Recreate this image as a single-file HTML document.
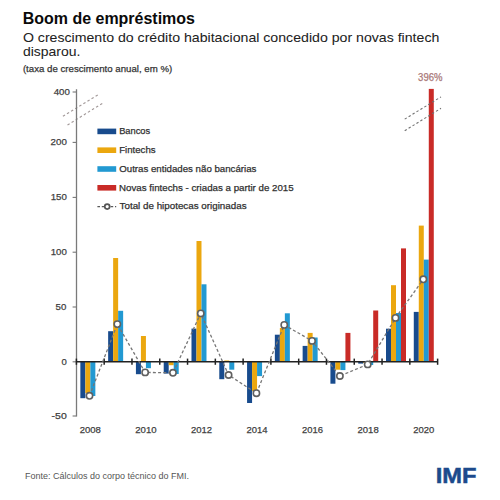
<!DOCTYPE html>
<html><head><meta charset="utf-8">
<style>
html,body{margin:0;padding:0;background:#fff;width:500px;height:500px;overflow:hidden}
svg{display:block}
text{font-family:"Liberation Sans",sans-serif}
.ax{font-size:10px;fill:#404040}
.lg{font-size:10px;fill:#303030}
</style></head><body>
<svg width="500" height="500" viewBox="0 0 500 500">
<rect width="500" height="500" fill="#fff"/>
<text x="22.69" y="24.00" font-size="15.6" fill="#0a0a0a" font-weight="bold" textLength="172.29" lengthAdjust="spacingAndGlyphs">Boom de empréstimos</text>
<text x="22.92" y="41.60" font-size="13.3" fill="#222" textLength="416.41" lengthAdjust="spacingAndGlyphs" stroke="#222" stroke-width="0.05">O crescimento do crédito habitacional concedido por novas fintech</text>
<text x="23.00" y="56.40" font-size="13.3" fill="#222" textLength="57.42" lengthAdjust="spacingAndGlyphs" stroke="#222" stroke-width="0.05">disparou.</text>
<text x="22.92" y="72.30" font-size="9.9" fill="#333" textLength="149.29" lengthAdjust="spacingAndGlyphs" stroke="#333" stroke-width="0.25">(taxa de crescimento anual, em %)</text>
<g stroke="#a39a9a" stroke-width="1.15" stroke-dasharray="2.5,2.3" fill="none">
<line x1="62.9" y1="116.3" x2="98.9" y2="94.2"/>
<line x1="67.5" y1="125.0" x2="103.2" y2="102.9"/>
</g>
<line x1="76.5" y1="89.2" x2="76.5" y2="416.6" stroke="#7a7a7a" stroke-width="1.3"/>
<line x1="72.6" y1="92.0" x2="76.5" y2="92.0" stroke="#777" stroke-width="1.1"/><text x="53.64" y="94.70" font-size="9.8" fill="#404040" textLength="16.17" lengthAdjust="spacingAndGlyphs" stroke="#404040" stroke-width="0.25">400</text><line x1="72.6" y1="142.4" x2="76.5" y2="142.4" stroke="#777" stroke-width="1.1"/><text x="50.54" y="145.40" font-size="9.8" fill="#404040" textLength="16.31" lengthAdjust="spacingAndGlyphs" stroke="#404040" stroke-width="0.25">200</text><line x1="72.6" y1="197.4" x2="76.5" y2="197.4" stroke="#777" stroke-width="1.1"/><text x="50.66" y="200.40" font-size="9.8" fill="#404040" textLength="16.18" lengthAdjust="spacingAndGlyphs" stroke="#404040" stroke-width="0.25">150</text><line x1="72.6" y1="252.2" x2="76.5" y2="252.2" stroke="#777" stroke-width="1.1"/><text x="50.66" y="255.20" font-size="9.8" fill="#404040" textLength="16.18" lengthAdjust="spacingAndGlyphs" stroke="#404040" stroke-width="0.25">100</text><line x1="72.6" y1="307.0" x2="76.5" y2="307.0" stroke="#777" stroke-width="1.1"/><text x="55.60" y="310.00" font-size="9.8" fill="#404040" textLength="10.72" lengthAdjust="spacingAndGlyphs" stroke="#404040" stroke-width="0.25">50</text><line x1="72.6" y1="361.8" x2="76.5" y2="361.8" stroke="#777" stroke-width="1.1"/><text x="61.38" y="364.80" font-size="9.8" fill="#404040" textLength="5.30" lengthAdjust="spacingAndGlyphs" stroke="#404040" stroke-width="0.25">0</text><line x1="72.6" y1="416.0" x2="76.5" y2="416.0" stroke="#777" stroke-width="1.1"/><text x="51.62" y="419.00" font-size="9.8" fill="#404040" textLength="15.12" lengthAdjust="spacingAndGlyphs" stroke="#404040" stroke-width="0.25">-50</text>
<rect x="97.4" y="128.6" width="18.8" height="5.6" fill="#184b8d"/><text x="119.17" y="134.20" font-size="9.6" fill="#303030" textLength="31.04" lengthAdjust="spacingAndGlyphs" stroke="#303030" stroke-width="0.25">Bancos</text><rect x="97.4" y="147.4" width="18.8" height="5.6" fill="#eba70f"/><text x="119.26" y="153.00" font-size="9.6" fill="#303030" textLength="36.34" lengthAdjust="spacingAndGlyphs" stroke="#303030" stroke-width="0.25">Fintechs</text><rect x="97.4" y="166.2" width="18.8" height="5.6" fill="#2299d2"/><text x="119.25" y="171.80" font-size="9.6" fill="#303030" textLength="137.16" lengthAdjust="spacingAndGlyphs" stroke="#303030" stroke-width="0.25">Outras entidades não bancárias</text><rect x="97.4" y="185.0" width="18.8" height="5.6" fill="#c92b27"/><text x="119.03" y="190.60" font-size="9.6" fill="#303030" textLength="174.68" lengthAdjust="spacingAndGlyphs" stroke="#303030" stroke-width="0.25">Novas fintechs - criadas a partir de 2015</text><line x1="97.4" y1="206.6" x2="116.2" y2="206.6" stroke="#5a5a5a" stroke-width="1.2" stroke-dasharray="2.6,1.8"/><circle cx="107.2" cy="206.6" r="2.45" fill="#fff" stroke="#555" stroke-width="1.7"/><text x="119.60" y="209.40" font-size="9.6" fill="#303030" textLength="126.96" lengthAdjust="spacingAndGlyphs" stroke="#303030" stroke-width="0.25">Total de hipotecas originadas</text>
<rect x="80.35" y="361.80" width="5.00" height="36.40" fill="#184b8d"/><rect x="85.35" y="361.80" width="5.00" height="31.20" fill="#eba70f"/><rect x="90.35" y="361.80" width="5.00" height="34.20" fill="#2299d2"/><rect x="108.14" y="331.20" width="5.00" height="30.60" fill="#184b8d"/><rect x="113.14" y="258.00" width="5.00" height="103.80" fill="#eba70f"/><rect x="118.14" y="310.80" width="5.00" height="51.00" fill="#2299d2"/><rect x="135.92" y="361.80" width="5.00" height="12.40" fill="#184b8d"/><rect x="140.92" y="336.00" width="5.00" height="25.80" fill="#eba70f"/><rect x="145.92" y="361.80" width="5.00" height="6.40" fill="#2299d2"/><rect x="163.71" y="361.80" width="5.00" height="11.80" fill="#184b8d"/><rect x="168.71" y="361.80" width="5.00" height="3.40" fill="#eba70f"/><rect x="173.71" y="361.80" width="5.00" height="12.20" fill="#2299d2"/><rect x="191.49" y="328.60" width="5.00" height="33.20" fill="#184b8d"/><rect x="196.49" y="241.00" width="5.00" height="120.80" fill="#eba70f"/><rect x="201.49" y="284.30" width="5.00" height="77.50" fill="#2299d2"/><rect x="219.28" y="361.80" width="5.00" height="17.40" fill="#184b8d"/><rect x="224.28" y="360.50" width="5.00" height="1.30" fill="#eba70f"/><rect x="229.28" y="361.80" width="5.00" height="7.90" fill="#2299d2"/><rect x="247.07" y="361.80" width="5.00" height="41.20" fill="#184b8d"/><rect x="252.07" y="361.80" width="5.00" height="29.20" fill="#eba70f"/><rect x="257.07" y="361.80" width="5.00" height="14.30" fill="#2299d2"/><rect x="274.85" y="334.70" width="5.00" height="27.10" fill="#184b8d"/><rect x="279.85" y="328.00" width="5.00" height="33.80" fill="#eba70f"/><rect x="284.85" y="313.30" width="5.00" height="48.50" fill="#2299d2"/><rect x="302.64" y="345.90" width="5.00" height="15.90" fill="#184b8d"/><rect x="307.64" y="332.90" width="5.00" height="28.90" fill="#eba70f"/><rect x="312.64" y="337.50" width="5.00" height="24.30" fill="#2299d2"/><rect x="330.42" y="361.80" width="5.00" height="21.90" fill="#184b8d"/><rect x="335.42" y="361.80" width="5.00" height="7.90" fill="#eba70f"/><rect x="340.42" y="361.80" width="5.00" height="8.30" fill="#2299d2"/><rect x="345.42" y="332.90" width="5.00" height="28.90" fill="#c92b27"/><rect x="358.21" y="361.80" width="5.00" height="1.80" fill="#184b8d"/><rect x="363.21" y="361.80" width="5.00" height="1.20" fill="#eba70f"/><rect x="368.21" y="361.80" width="5.00" height="3.20" fill="#2299d2"/><rect x="373.21" y="310.50" width="5.00" height="51.30" fill="#c92b27"/><rect x="386.00" y="328.70" width="5.00" height="33.10" fill="#184b8d"/><rect x="391.00" y="285.20" width="5.00" height="76.60" fill="#eba70f"/><rect x="396.00" y="313.00" width="5.00" height="48.80" fill="#2299d2"/><rect x="401.00" y="248.40" width="5.00" height="113.40" fill="#c92b27"/><rect x="413.78" y="311.90" width="5.00" height="49.90" fill="#184b8d"/><rect x="418.78" y="225.60" width="5.00" height="136.20" fill="#eba70f"/><rect x="423.78" y="259.60" width="5.00" height="102.20" fill="#2299d2"/><rect x="428.78" y="88.90" width="5.00" height="272.90" fill="#c92b27"/>
<line x1="76.5" y1="361.8" x2="437.5" y2="361.8" stroke="#222" stroke-width="1.6"/>
<line x1="76.40" y1="358.6" x2="76.40" y2="364.8" stroke="#222" stroke-width="1.5"/><line x1="104.19" y1="358.6" x2="104.19" y2="364.8" stroke="#222" stroke-width="1.5"/><line x1="131.97" y1="358.6" x2="131.97" y2="364.8" stroke="#222" stroke-width="1.5"/><line x1="159.76" y1="358.6" x2="159.76" y2="364.8" stroke="#222" stroke-width="1.5"/><line x1="187.54" y1="358.6" x2="187.54" y2="364.8" stroke="#222" stroke-width="1.5"/><line x1="215.33" y1="358.6" x2="215.33" y2="364.8" stroke="#222" stroke-width="1.5"/><line x1="243.12" y1="358.6" x2="243.12" y2="364.8" stroke="#222" stroke-width="1.5"/><line x1="270.90" y1="358.6" x2="270.90" y2="364.8" stroke="#222" stroke-width="1.5"/><line x1="298.69" y1="358.6" x2="298.69" y2="364.8" stroke="#222" stroke-width="1.5"/><line x1="326.47" y1="358.6" x2="326.47" y2="364.8" stroke="#222" stroke-width="1.5"/><line x1="354.26" y1="358.6" x2="354.26" y2="364.8" stroke="#222" stroke-width="1.5"/><line x1="382.05" y1="358.6" x2="382.05" y2="364.8" stroke="#222" stroke-width="1.5"/><line x1="409.83" y1="358.6" x2="409.83" y2="364.8" stroke="#222" stroke-width="1.5"/><line x1="437.62" y1="358.6" x2="437.62" y2="364.8" stroke="#222" stroke-width="1.5"/>
<g stroke="#707070" stroke-width="1.1" stroke-dasharray="2.4,2.2" fill="none">
<line x1="404.7" y1="119.1" x2="441" y2="96.9"/>
<line x1="404.7" y1="130.7" x2="441" y2="108.3"/>
</g>
<path d="M89.50,395.80 L117.32,324.10 L145.14,372.40 L172.96,372.80 L200.78,313.40 L228.60,375.00 L256.42,393.20 L284.24,324.90 L312.06,340.90 L339.88,376.00 L367.70,364.40 L395.52,317.90 L423.34,279.30" fill="none" stroke="#767676" stroke-width="1.3" stroke-dasharray="3,2.2"/>
<circle cx="89.50" cy="395.80" r="3.15" fill="#fff" stroke="#606060" stroke-width="1.6"/><circle cx="117.32" cy="324.10" r="3.15" fill="#fff" stroke="#606060" stroke-width="1.6"/><circle cx="145.14" cy="372.40" r="3.15" fill="#fff" stroke="#606060" stroke-width="1.6"/><circle cx="172.96" cy="372.80" r="3.15" fill="#fff" stroke="#606060" stroke-width="1.6"/><circle cx="200.78" cy="313.40" r="3.15" fill="#fff" stroke="#606060" stroke-width="1.6"/><circle cx="228.60" cy="375.00" r="3.15" fill="#fff" stroke="#606060" stroke-width="1.6"/><circle cx="256.42" cy="393.20" r="3.15" fill="#fff" stroke="#606060" stroke-width="1.6"/><circle cx="284.24" cy="324.90" r="3.15" fill="#fff" stroke="#606060" stroke-width="1.6"/><circle cx="312.06" cy="340.90" r="3.15" fill="#fff" stroke="#606060" stroke-width="1.6"/><circle cx="339.88" cy="376.00" r="3.15" fill="#fff" stroke="#606060" stroke-width="1.6"/><circle cx="367.70" cy="364.40" r="3.15" fill="#fff" stroke="#606060" stroke-width="1.6"/><circle cx="395.52" cy="317.90" r="3.15" fill="#fff" stroke="#606060" stroke-width="1.6"/><circle cx="423.34" cy="279.30" r="3.15" fill="#fff" stroke="#606060" stroke-width="1.6"/>
<text x="418.12" y="80.60" font-size="10.2" fill="#a97777" textLength="24.33" lengthAdjust="spacingAndGlyphs" stroke="#a97777" stroke-width="0.25">396%</text>
<text x="79.71" y="433.40" font-size="9.8" fill="#404040" textLength="21.19" lengthAdjust="spacingAndGlyphs" stroke="#404040" stroke-width="0.25">2008</text><text x="135.23" y="433.40" font-size="9.8" fill="#404040" textLength="21.35" lengthAdjust="spacingAndGlyphs" stroke="#404040" stroke-width="0.25">2010</text><text x="190.88" y="433.40" font-size="9.8" fill="#404040" textLength="21.19" lengthAdjust="spacingAndGlyphs" stroke="#404040" stroke-width="0.25">2012</text><text x="246.47" y="433.40" font-size="9.8" fill="#404040" textLength="21.04" lengthAdjust="spacingAndGlyphs" stroke="#404040" stroke-width="0.25">2014</text><text x="302.10" y="433.40" font-size="9.8" fill="#404040" textLength="21.01" lengthAdjust="spacingAndGlyphs" stroke="#404040" stroke-width="0.25">2016</text><text x="357.55" y="433.40" font-size="9.8" fill="#404040" textLength="21.11" lengthAdjust="spacingAndGlyphs" stroke="#404040" stroke-width="0.25">2018</text><text x="413.13" y="433.40" font-size="9.8" fill="#404040" textLength="21.07" lengthAdjust="spacingAndGlyphs" stroke="#404040" stroke-width="0.25">2020</text>
<text x="24.92" y="479.40" font-size="8.6" fill="#555" textLength="164.05" lengthAdjust="spacingAndGlyphs">Fonte: Cálculos do corpo técnico do FMI.</text>
<text x="435.65" y="482.90" font-size="22.5" fill="#1c4a8c" font-weight="bold" textLength="40.84" lengthAdjust="spacingAndGlyphs" stroke="#1c4a8c" stroke-width="0.5">IMF</text>
</svg>
</body></html>
